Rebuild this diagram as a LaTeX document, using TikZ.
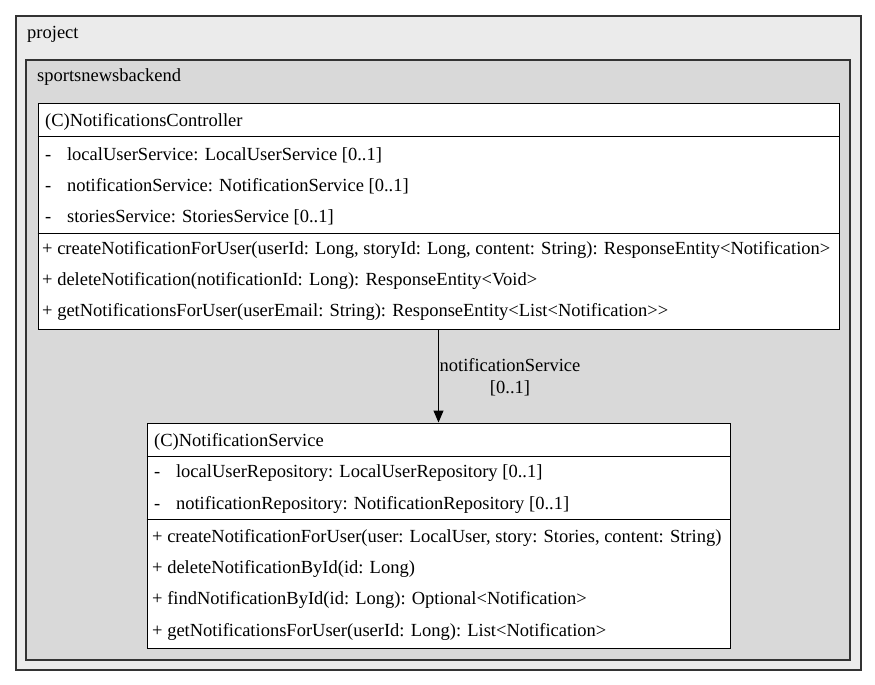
\documentclass[tikz,border=0pt]{standalone}
\usepackage{fontspec}
\setmainfont{Liberation Serif}
\usetikzlibrary{arrows.meta}
\definecolor{projfill}{HTML}{EBEBEB}
\definecolor{pkgfill}{HTML}{D9D9D9}
\definecolor{edge}{HTML}{333333}

\begin{document}
\begin{tikzpicture}[x=1pt,y=-1pt,pkg/.style={draw=edge,line width=1.3pt},classbox/.style={draw=black,fill=white,line width=1pt,inner sep=0pt},row/.style={anchor=west,inner sep=0pt,yshift=-1.5pt,font=\fontsize{18.5}{22}\selectfont},arrow/.style={-{Triangle[length=12pt,width=10pt]},line width=1pt,draw=black}]
\useasboundingbox (0,0) rectangle (875,685);
\draw[pkg,fill=projfill] (16,16) rectangle (861,670);
\node[row] (proj) at (27,33) {project};
\draw[pkg,fill=pkgfill] (26,60) rectangle (850,660);
\node[row] (pack) at (37,76) {sportsnewsbackend};
% NotificationsController
\node[classbox,minimum width=801pt,minimum height=226pt] (ctrl) at (438.5,216) {};
\draw[line width=1pt] (ctrl.west |- 0,136) -- (ctrl.east |- 0,136);
\draw[line width=1pt] (ctrl.west |- 0,233) -- (ctrl.east |- 0,233);
\node[row] (c0) at (45,120) {(C)NotificationsController};
\node[row] (c1) at (45,154) {-\hspace{0.85em}localUserService: LocalUserService [0..1]};
\node[row] (c2) at (45,185) {-\hspace{0.85em}notificationService: NotificationService [0..1]};
\node[row] (c3) at (45,216) {-\hspace{0.85em}storiesService: StoriesService [0..1]};
\node[row] (c4) at (42,248) {+ createNotificationForUser(userId: Long, storyId: Long, content: String): ResponseEntity<Notification>};
\node[row] (c5) at (42,279) {+ deleteNotification(notificationId: Long): ResponseEntity<Void>};
\node[row] (c6) at (42,310) {+ getNotificationsForUser(userEmail: String): ResponseEntity<List<Notification>{}>};
% NotificationService
\node[classbox,minimum width=583pt,minimum height=225pt] (svc) at (438.5,535.5) {};
\draw[line width=1pt] (svc.west |- 0,456) -- (svc.east |- 0,456);
\draw[line width=1pt] (svc.west |- 0,519) -- (svc.east |- 0,519);
\node[row] (s0) at (154,440) {(C)NotificationService};
\node[row] (s1) at (154,472) {-\hspace{0.85em}localUserRepository: LocalUserRepository [0..1]};
\node[row] (s2) at (154,503) {-\hspace{0.85em}notificationRepository: NotificationRepository [0..1]};
\node[row] (s3) at (152,536) {+ createNotificationForUser(user: LocalUser, story: Stories, content: String)};
\node[row] (s4) at (152,567) {+ deleteNotificationById(id: Long)};
\node[row] (s5) at (152,598) {+ findNotificationById(id: Long): Optional<Notification>};
\node[row] (s6) at (152,630) {+ getNotificationsForUser(userId: Long): List<Notification>};
% association
\draw[arrow] (ctrl.south) -- (svc.north);
\node[row,anchor=center,align=center] (lbl) at (510,376) {notificationService\\{}[0..1]};
\end{tikzpicture}
\end{document}
